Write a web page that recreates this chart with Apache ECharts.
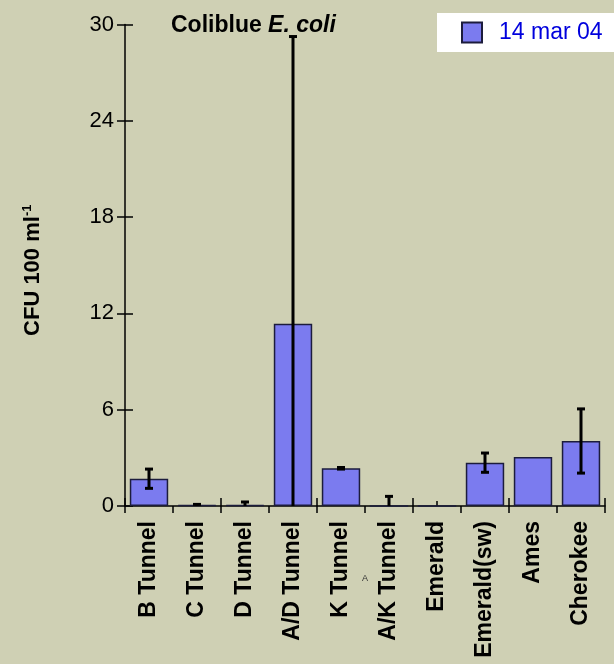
<!DOCTYPE html>
<html>
<head>
<meta charset="utf-8">
<script src="https://cdn.jsdelivr.net/npm/echarts@6/dist/echarts.min.js"></script>
<style>
  html, body { margin: 0; padding: 0; background: #cfd0b4; }
  #chart { width: 614px; height: 664px; }
</style>
</head>
<body>
<div id="chart"></div>
<script>
// Sampling sites along the tunnel system
const categories = ['B Tunnel', 'C Tunnel', 'D Tunnel', 'A/D Tunnel', 'K Tunnel',
                    'A/K Tunnel', 'Emerald', 'Emerald(sw)', 'Ames', 'Cherokee'];
// Mean Coliblue E. coli counts (CFU per 100 ml), 14 Mar 04
const values = [1.7, 0.05, 0.05, 11.35, 2.35, 0, 0, 2.7, 3.05, 4.05];
// Standard deviation of each mean (0 = no error bar)
const errors = [0.6, 0.05, 0.2, 17.9, 0.05, 0.6, 0, 0.6, 0, 2.0];
// Value-axis ticks
const yTicks = [0, 6, 12, 18, 24, 30];

const seriesName = '14 mar 04';
const barColor = '#7b7bef';
const fontFamily = 'Liberation Sans, Arial, sans-serif';

// Error bar extents, clipped to the axis floor
const errData = categories
  .map((c, i) => [i, Math.max(0, values[i] - errors[i]), values[i] + errors[i], errors[i]])
  .filter(d => d[3] > 0);

const chart = echarts.init(document.getElementById('chart'));

const baseY = {
  type: 'value',
  position: 'left',
  min: yTicks[0],
  max: yTicks[yTicks.length - 1],
  interval: yTicks[1] - yTicks[0],
  splitLine: { show: false }
};
const baseX = {
  type: 'category',
  data: categories,
  position: 'bottom',
  boundaryGap: true
};

chart.setOption({
  backgroundColor: '#cfd0b4',
  animation: false,
  textStyle: { fontFamily },
  title: {
    text: '{b|Coliblue }{i|E. coli}',
    left: 166,
    top: 9,
    textStyle: {
      rich: {
        b: { fontSize: 23, fontWeight: 'bold', color: '#000', fontFamily },
        i: { fontSize: 23, fontWeight: 'bold', fontStyle: 'italic', color: '#000', fontFamily }
      }
    }
  },
  legend: {
    left: 437,
    top: 13,
    backgroundColor: '#ffffff',
    padding: [8, 12, 8, 24],
    itemWidth: 20,
    itemHeight: 20,
    itemGap: 10,
    icon: 'rect',
    textStyle: { fontSize: 23, color: '#0000dd', fontFamily, padding: [0, 0, 0, 12] },
    data: [seriesName]
  },
  grid: { left: 125, right: 9, top: 24.5, bottom: 158 },
  xAxis: [
    Object.assign({}, baseX, {
      axisLine: { lineStyle: { color: '#000', width: 1.5 } },
      axisTick: { show: true, length: 7, lineStyle: { color: '#000', width: 1.5 } },
      axisLabel: {
        rotate: 90, margin: 15, color: '#000', fontSize: 23,
        fontWeight: 'bold', fontFamily, interval: 0, padding: [0, 0, 8, 0]
      }
    }),
    Object.assign({}, baseX, {
      axisLine: { show: false },
      axisTick: { show: true, inside: true, length: 8, lineStyle: { color: '#000', width: 1.5 } },
      axisLabel: { show: false }
    }),
    Object.assign({}, baseX, {
      axisLine: { show: false },
      axisTick: { show: true, inside: true, alignWithLabel: true, length: 5,
                  lineStyle: { color: '#000', width: 1.5 } },
      axisLabel: { show: false }
    })
  ],
  yAxis: [
    Object.assign({}, baseY, {
      axisLine: { show: true, lineStyle: { color: '#000', width: 1.5 } },
      axisTick: { show: true, length: 8, lineStyle: { color: '#000', width: 1.5 } },
      axisLabel: { color: '#000', fontSize: 22, margin: 11, fontFamily },
      name: '{t|CFU 100 ml}{s|-1}',
      nameLocation: 'middle',
      nameGap: 80,
      nameRotate: 90,
      nameTextStyle: {
        padding: [0, 10, 0, 0],
        rich: {
          t: { fontSize: 22, fontWeight: 'bold', color: '#000', fontFamily },
          s: { fontSize: 13, fontWeight: 'bold', color: '#000', fontFamily, verticalAlign: 'top', padding: [0, 0, 11, 0] }
        }
      }
    }),
    Object.assign({}, baseY, {
      axisLine: { show: false },
      axisTick: { show: true, inside: true, length: 8, lineStyle: { color: '#000', width: 1.5 } },
      axisLabel: { show: false }
    })
  ],
  graphic: [
    {
      type: 'text',
      left: 362,
      top: 574,
      style: { text: 'A', fontSize: 9, fill: '#333', fontFamily }
    }
  ],
  series: [
    {
      name: seriesName,
      type: 'bar',
      data: values,
      barCategoryGap: '20%',
      itemStyle: { color: barColor, borderColor: '#1c1c3c', borderWidth: 1.5 }
    },
    {
      name: 'sd',
      type: 'custom',
      data: errData,
      z: 5,
      renderItem: function (params, api) {
        const x = api.value(0);
        const lo = api.value(1);
        const hi = api.value(2);
        const top = api.coord([x, hi]);
        const bot = api.coord([x, lo]);
        const half = 4;
        const style = { stroke: '#000', lineWidth: 3 };
        const children = [
          { type: 'line', shape: { x1: top[0], y1: top[1], x2: bot[0], y2: bot[1] }, style },
          { type: 'line', shape: { x1: top[0] - half, y1: top[1], x2: top[0] + half, y2: top[1] }, style }
        ];
        if (lo > 0) {
          children.push({ type: 'line', shape: { x1: bot[0] - half, y1: bot[1], x2: bot[0] + half, y2: bot[1] }, style });
        }
        return { type: 'group', children };
      }
    }
  ]
});
</script>
</body>
</html>
